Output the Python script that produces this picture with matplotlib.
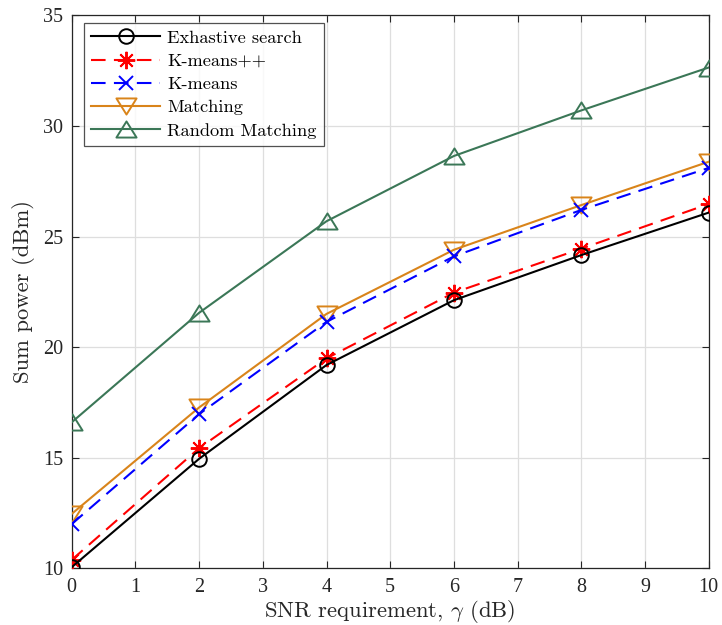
import matplotlib
matplotlib.use("Agg")
import matplotlib.pyplot as plt
from matplotlib.path import Path
import numpy as np

# ---- data ----
snr = [0, 2, 4, 6, 8, 10]
exhaustive = [10.05, 14.95, 19.19, 22.12, 24.16, 26.08]
kmeanspp = [10.38, 15.43, 19.49, 22.46, 24.45, 26.47]
kmeans = [12.0, 16.97, 21.14, 24.1, 26.2, 28.1]
matching = [12.46, 17.27, 21.5, 24.4, 26.42, 28.38]
random_matching = [16.6, 21.55, 25.69, 28.64, 30.7, 32.64]

labels = ["Exhastive search", "K-means++", "K-means", "Matching", "Random Matching"]
xticks = list(range(0, 11))
yticks = [10, 15, 20, 25, 30, 35]

plt.rcParams['mathtext.fontset'] = 'cm'
cm_font = 'cmr10'
tick_font = 'Liberation Serif'

tri_up = Path([(0, 0.8), (-1, -0.8), (1, -0.8), (0, 0.8)],
              [Path.MOVETO, Path.LINETO, Path.LINETO, Path.CLOSEPOLY])
tri_down = Path([(0, -0.8), (-1, 0.8), (1, 0.8), (0, -0.8)],
                [Path.MOVETO, Path.LINETO, Path.LINETO, Path.CLOSEPOLY])

fig = plt.figure(figsize=(7.22, 6.25), dpi=100)
ax = fig.add_axes([71.7 / 722, 1 - 568.3 / 625, (708.7 - 71.7) / 722, (568.3 - 15.3) / 625])

lw = 1.5
orange = '#D9841A'
green = '#3B7757'
ax.plot(snr, exhaustive, color='black', lw=lw, marker='o', ms=10.5,
        mfc='none', mew=1.4, label=labels[0], zorder=5)
ax.plot(snr, kmeanspp, color='red', lw=lw, dashes=(7, 4), marker=(8, 2, 0), ms=12.5,
        mew=1.4, label=labels[1], zorder=4)
ax.plot(snr, kmeans, color='blue', lw=lw, dashes=(7, 4), marker='x', ms=10,
        mew=1.4, label=labels[2], zorder=4)
ax.plot(snr, matching, color=orange, lw=lw, marker=tri_down, ms=14.5,
        mfc='none', mew=1.4, label=labels[3], zorder=3)
ax.plot(snr, random_matching, color=green, lw=lw, marker=tri_up, ms=14.5,
        mfc='none', mew=1.4, label=labels[4], zorder=3)

ax.set_xlim(0, 10)
ax.set_ylim(10, 35)
ax.set_xticks(xticks)
ax.set_yticks(yticks)
ax.set_xticklabels([str(t) for t in xticks], fontfamily=tick_font, fontsize=14.5)
ax.set_yticklabels([str(t) for t in yticks], fontfamily=tick_font, fontsize=14.5)
ax.tick_params(direction='in', top=True, right=True, length=5, width=0.8,
               color='#262626', labelcolor='#262626')
ax.tick_params(axis='x', pad=7)
ax.tick_params(axis='y', pad=6)
for s in ax.spines.values():
    s.set_color('#262626')
    s.set_linewidth(0.9)
ax.grid(True, color='#dedede', lw=0.9)
ax.set_axisbelow(True)

ax.set_xlabel(r'SNR requirement, $\gamma$ (dB)', fontfamily=cm_font, fontsize=16.3,
              color='#262626', labelpad=1)
ax.set_ylabel('Sum power (dBm)', fontfamily=cm_font, fontsize=16.3,
              color='#262626', labelpad=6)

leg = ax.legend(loc='upper left', bbox_to_anchor=(12.3 / 637, 1 - 7.4 / 553),
                borderaxespad=0, prop={'family': cm_font, 'size': 13.2},
                frameon=True, fancybox=False, edgecolor='#262626',
                handlelength=3.75, handletextpad=0.4, labelspacing=0.4,
                borderpad=0.4)
leg.get_frame().set_linewidth(0.9)

fig.savefig('out.png', dpi=100)
